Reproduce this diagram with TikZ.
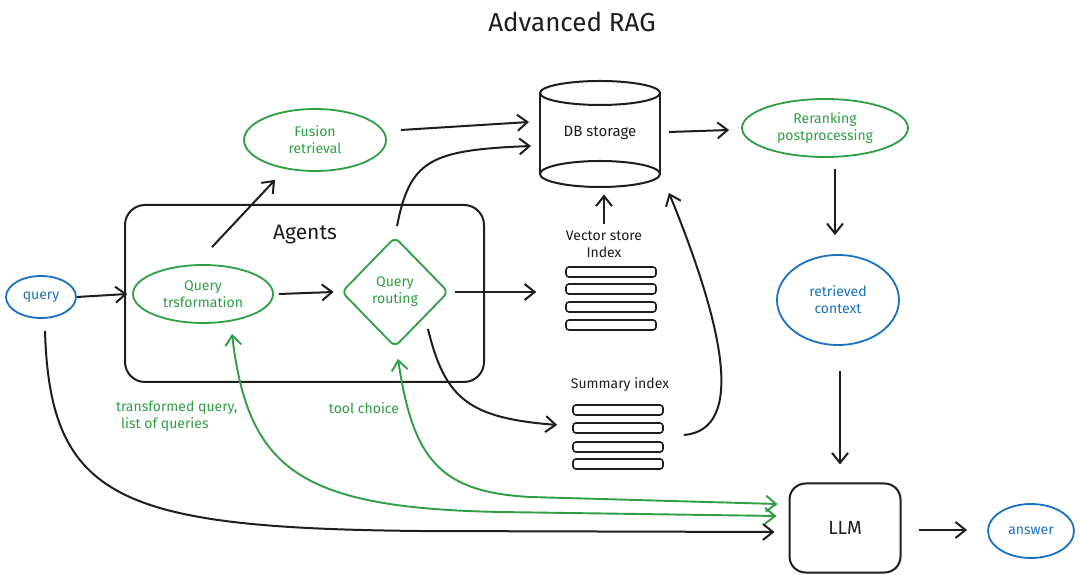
\documentclass[tikz,border=0pt]{standalone}
\usepackage{fontspec}
\setmainfont{Fira Sans}
\usetikzlibrary{arrows.meta,shapes.geometric,calc}
\definecolor{exgreen}{HTML}{2F9E44}
\definecolor{exblue}{HTML}{1971C2}
\definecolor{exblack}{HTML}{1E1E1E}
\begin{document}
\begin{tikzpicture}[x=0.5pt,y=-0.5pt,
  line width=1pt, draw=exblack,
  arr/.style={-{Straight Barb[length=5pt,width=8pt]}, line width=1pt, draw=exblack},
  garr/.style={{Straight Barb[length=5pt,width=8pt]}-{Straight Barb[length=5pt,width=8pt]}, line width=0.95pt, draw=exgreen},
  gell/.style={ellipse, draw=exgreen, line width=0.9pt, text=exgreen, inner sep=0pt, align=center, font=\fontsize{7}{8.5}\selectfont},
  bell/.style={ellipse, draw=exblue, line width=0.9pt, text=exblue, inner sep=0pt, align=center, font=\fontsize{7}{8.5}\selectfont},
  lab/.style={align=center, text=exblack, font=\fontsize{7}{8.5}\selectfont, inner sep=0pt},
  glab/.style={align=left, text=exgreen, font=\fontsize{7}{8.5}\selectfont, inner sep=0pt},
  bar/.style={draw=exblack, rounded corners=1.5pt, minimum width=45pt, minimum height=5pt, inner sep=0pt, line width=0.8pt}
]
\useasboundingbox (0,0) rectangle (1080,581);
\fill[white] (0,0) rectangle (1080,581);

% title
\node[text=exblack, font=\fontsize{13}{15}\selectfont] (title) at (572,22) {Advanced RAG};

% Agents box
\node[draw=exblack, line width=1pt, rounded corners=10pt, minimum width=179.5pt, minimum height=88.5pt, inner sep=0pt] (agents) at (304.5,293.5) {};
\node[text=exblack, font=\fontsize{10.5}{12}\selectfont] (agentslab) at (305,235) {Agents};

% nodes
\node[bell, minimum width=35pt, minimum height=21pt] (query) at (41,297) {query};
\node[gell, minimum width=70pt, minimum height=29pt] (qt) at (203,294) {Query\\trsformation};
\node[diamond, draw=exgreen, line width=0.9pt, text=exgreen, rounded corners=3pt, minimum width=53.5pt, minimum height=55pt, inner sep=0pt, align=center, font=\fontsize{7}{8.5}\selectfont] (qr) at (395,292) {Query\\routing};
\node[gell, minimum width=71pt, minimum height=31pt] (fus) at (315,140) {Fusion\\retrieval};
\node[gell, minimum width=83pt, minimum height=29pt] (rr) at (825,128) {Reranking\\postprocessing};
\node[bell, minimum width=61pt, minimum height=45pt] (rc) at (838,300) {retrieved\\context};
\node[bell, minimum width=43pt, minimum height=27pt] (ans) at (1031,531) {answer};
\node[draw=exblack, line width=1pt, rounded corners=8pt, minimum width=55.5pt, minimum height=44.5pt, inner sep=0pt, text=exblack, font=\fontsize{9.5}{11}\selectfont] (llm) at (845,528) {LLM};

% DB storage cylinder
\node[minimum width=60pt, minimum height=40.5pt, inner sep=0pt, text=exblack, font=\fontsize{7.5}{9}\selectfont] (db) at (600,133) {DB storage};
\draw[line width=1pt] (540,93) -- (540,174) (660,93) -- (660,174);
\draw[line width=1pt] (600,93) ellipse [x radius=60, y radius=12];
\draw[line width=1pt] (600,174) ellipse [x radius=60, y radius=13];

% Vector store index
\node[lab] (vslab) at (604,244) {Vector store\\Index};
\node[bar] (vs1) at (611,272) {};
\node[bar] (vs2) at (611,289) {};
\node[bar] (vs3) at (611,307) {};
\node[bar] (vs4) at (611,325) {};

% Summary index
\node[lab] (silab) at (620,385) {Summary index};
\node[bar] (si1) at (618,410) {};
\node[bar] (si2) at (618,428) {};
\node[bar] (si3) at (618,447) {};
\node[bar] (si4) at (618,464) {};

% green labels
\node[glab, anchor=west] (tqlab) at (115,416) {transformed query,\\\hspace*{2.5pt}list of queries};
\node[glab] (tclab) at (364,408) {tool choice};

% black arrows
\draw[arr] (query.east) -- ($(qt.west)+(-5,0)$);
\draw[arr] ($(qt.east)+(5,0)$) -- ($(qr.west)+(-7,0)$);
\draw[arr] ($(qt.north)+(9,-17)$) -- ($(fus.south)+(-40,8)$);
\draw[arr] ($(fus.east)+(14,-10)$) -- ($(db.west)+(-10,-11)$);
\draw[arr] ($(qr.north)+(2,-10)$) .. controls (410,160) and (430,150) .. ($(db.west)+(-8,13)$);
\draw[arr] ($(db.east)+(8,-1)$) -- ($(rr.west)+(-12,2)$);
\draw[arr] ($(rr.south)+(10,11)$) -- ($(rc.north)+(-3,-19)$);
\draw[arr] ($(rc.south)+(2,25)$) -- ($(llm.north)+(-5,-18)$);
\draw[arr] ($(llm.east)+(17,2)$) -- ($(ans.west)+(-20,-1)$);
\draw[arr] ($(qr.east)+(6,0)$) -- ($(vs2.west)+(-29,3)$);
\draw[arr] ($(vslab.north)+(0,-6)$) -- ($(db.south)+(4,20)$);
\draw[arr] ($(qr.south)+(33,-19)$) .. controls (445,400) and (470,418) .. ($(si2.west)+(-15,-3)$);
\draw[arr] ($(si3.east)+(20,-12)$) .. controls (745,430) and (725,330) .. ($(db.east)+(8,60)$);
\draw[arr] ($(query.south)+(4,12)$) .. controls (50,500) and (120,528) .. (420,531) -- ($(llm.west)+(-14,4)$);

% green arrows
\draw[garr] ($(llm.west)+(-12,-12)$) -- (500,512) .. controls (300,508) and (248,470) .. ($(qt.south)+(29,10)$);
\draw[garr] ($(llm.west)+(-11,-24)$) -- (530,497) .. controls (440,492) and (413,460) .. ($(qr.south)+(3,11)$);
\end{tikzpicture}
\end{document}
